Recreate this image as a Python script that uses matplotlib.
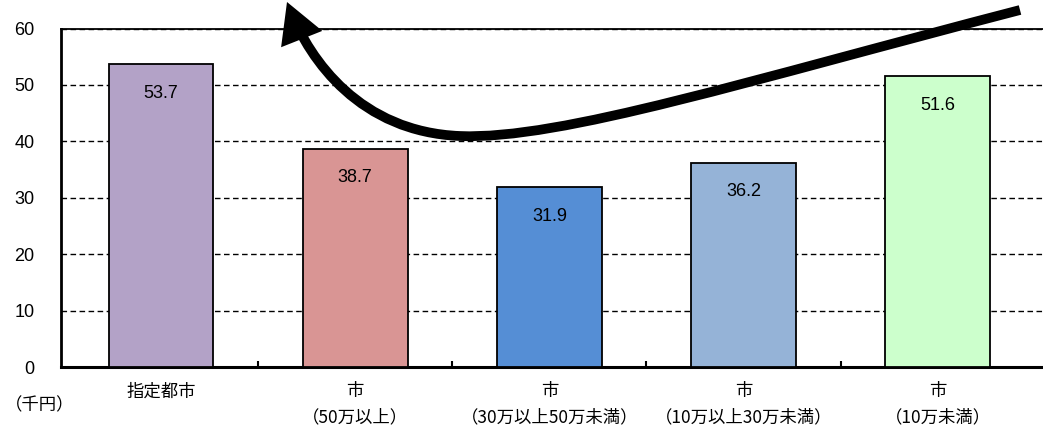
import matplotlib
matplotlib.use('Agg')
import matplotlib.pyplot as plt
from matplotlib.patches import FancyArrowPatch
from matplotlib.path import Path
from matplotlib.transforms import IdentityTransform
import numpy as np

plt.rcParams['font.family'] = ['Noto Sans CJK JP', 'DejaVu Sans']

# データ
categories = ['指定都市', '市\n（50万以上）', '市\n（30万以上50万未満）',
              '市\n（10万以上30万未満）', '市\n（10万未満）']
values = [53.7, 38.7, 31.9, 36.2, 51.6]
colors = ['#B3A2C7', '#D99594', '#558ED5', '#95B3D7', '#CCFFCC']
yticks = [0, 10, 20, 30, 40, 50, 60]

W, H = 1043, 428
fig = plt.figure(figsize=(W / 100, H / 100), dpi=100)
# 右端は画像の外まで伸ばす
ax = fig.add_axes([61 / W, 61 / H, (1062 - 61) / W, (367 - 28.5) / H])

x = np.arange(len(values))
ax.bar(x, values, width=0.54, color=colors, edgecolor='black', linewidth=1.3, zorder=3)

for xi, v in zip(x, values):
    ax.annotate(f'{v:.1f}', (xi, v), xytext=(0, -21), textcoords='offset points',
                ha='center', va='center', fontsize=13, family='Liberation Sans',
                zorder=4)

ax.set_ylim(0, 60)
ax.set_xlim(-0.515, 4.64)
ax.set_yticks(yticks)
ax.set_yticklabels([str(t) for t in yticks], family='Liberation Sans', fontsize=13)
ax.tick_params(axis='y', length=0, pad=19)

# カテゴリ名は中央、目盛りは境界に
ax.set_xticks(x)
ax.set_xticklabels(categories, fontsize=12.5, linespacing=1.55)
ax.tick_params(axis='x', which='major', length=0, pad=11)
ax.set_xticks(x[:-1] + 0.5, minor=True)
ax.tick_params(axis='x', which='minor', direction='in', length=4, width=1.5)

ax.yaxis.grid(True, linestyle=(0, (4, 2.5)), color='black', linewidth=1.0, zorder=0)
ax.set_axisbelow(True)

ax.spines['left'].set_linewidth(2.0)
ax.spines['bottom'].set_linewidth(2.2)
ax.spines['top'].set_linewidth(1.3)
ax.spines['right'].set_visible(False)

fig.text(40 / W, 1 - 405 / H, '（千円）', ha='center', va='center', fontsize=12.5)

# 曲線矢印（ピクセル座標）
pts = [(1020, 10), (750, 80), (560, 140), (460, 136),
       (360, 132), (310, 60), (287, 2)]
pts = [(px, H - py) for px, py in pts]
codes = [Path.MOVETO] + [Path.CURVE4] * 6
arrow = FancyArrowPatch(path=Path(pts, codes), arrowstyle='-|>,head_length=0.9,head_width=0.5',
                        mutation_scale=20, linewidth=7, color='black',
                        transform=IdentityTransform(), shrinkA=0, shrinkB=0,
                        joinstyle='miter', capstyle='butt')
fig.add_artist(arrow)

fig.savefig('out.png', dpi=100)
